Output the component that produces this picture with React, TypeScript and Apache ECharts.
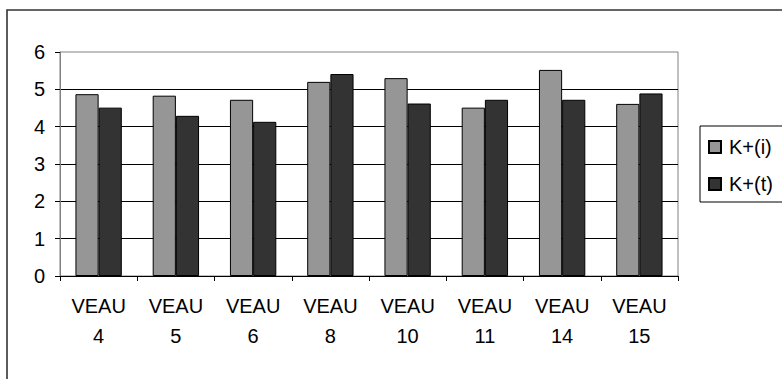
import React, { useEffect, useRef } from "react";
import * as echarts from "echarts";

const categories = ["VEAU\n4", "VEAU\n5", "VEAU\n6", "VEAU\n8", "VEAU\n10", "VEAU\n11", "VEAU\n14", "VEAU\n15"];
const kIntra = [4.87, 4.83, 4.72, 5.2, 5.3, 4.51, 5.52, 4.61];
const kTotal = [4.51, 4.29, 4.13, 5.41, 4.62, 4.72, 4.72, 4.89];
const seriesNames = ["K+(i)", "K+(t)"];

const FONT = "'Liberation Sans', Arial, sans-serif";

export default function App() {
  const ref = useRef<HTMLDivElement>(null);

  useEffect(() => {
    if (!ref.current) return;
    const chart = echarts.init(ref.current, null, { renderer: "svg" });
    chart.setOption({
      animation: false,
      backgroundColor: "#ffffff",
      textStyle: { fontFamily: FONT },
      graphic: [
        {
          type: "rect",
          z: 0,
          silent: true,
          shape: { x: 7, y: 10, width: 820, height: 420 },
          style: { fill: "none", stroke: "#333333", lineWidth: 1.6 },
        },
      ],
      grid: {
        left: 60,
        right: 104,
        top: 52,
        bottom: 103,
        show: true,
        borderColor: "#808080",
        borderWidth: 1,
        backgroundColor: "transparent",
      },
      legend: {
        data: seriesNames,
        orient: "vertical",
        left: 700,
        top: 126,
        icon: "rect",
        itemWidth: 12,
        itemHeight: 12,
        itemGap: 17,
        padding: [11, 30, 8, 8],
        borderColor: "#000000",
        borderWidth: 1,
        textStyle: {
          fontFamily: FONT,
          fontSize: 20,
          lineHeight: 20,
          color: "#000",
          padding: [0, 0, 0, 3],
        },
      },
      xAxis: {
        type: "category",
        data: categories,
        boundaryGap: true,
        axisLine: { lineStyle: { color: "#000", width: 1 } },
        axisTick: { show: true, length: 5, inside: false, lineStyle: { color: "#000" } },
        axisLabel: {
          interval: 0,
          margin: 15,
          fontFamily: FONT,
          fontSize: 20,
          lineHeight: 30,
          color: "#000",
        },
      },
      yAxis: {
        type: "value",
        min: 0,
        max: 6,
        interval: 1,
        axisLine: { show: true, lineStyle: { color: "#808080", width: 1 } },
        axisTick: { show: true, length: 5, lineStyle: { color: "#000" } },
        axisLabel: { margin: 15, fontFamily: FONT, fontSize: 20, color: "#000" },
        splitLine: {
          show: true,
          showMinLine: false,
          showMaxLine: false,
          lineStyle: { color: "#000", width: 1 },
        },
      },
      series: [
        {
          name: seriesNames[0],
          type: "bar",
          data: kIntra,
          barGap: "0%",
          barCategoryGap: "40%",
          itemStyle: { color: "#969696", borderColor: "#000", borderWidth: 1 },
        },
        {
          name: seriesNames[1],
          type: "bar",
          data: kTotal,
          barGap: "0%",
          barCategoryGap: "40%",
          itemStyle: { color: "#333333", borderColor: "#000", borderWidth: 1 },
        },
      ],
    });
    return () => chart.dispose();
  }, []);

  return (
    <div
      ref={ref}
      style={{ position: "fixed", left: 0, top: 0, width: 782, height: 379 }}
    />
  );
}
